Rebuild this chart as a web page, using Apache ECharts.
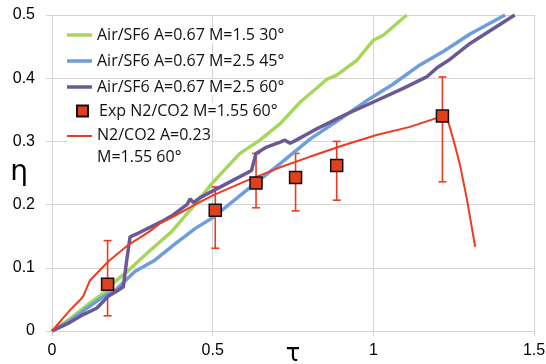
<!DOCTYPE html>
<html>
<head>
<meta charset="utf-8">
<script src="https://cdn.jsdelivr.net/npm/echarts@6/dist/echarts.min.js"></script>
<style>
html, body { margin: 0; padding: 0; background: #fff; }
#chart { width: 546px; height: 364px; }
</style>
</head>
<body>
<div id="chart"></div>
<script>
// simulated curves, [tau, eta]
const air30 = [[0, 0], [0.05, 0.017], [0.097, 0.036], [0.17, 0.064], [0.196, 0.078], [0.232, 0.093], [0.289, 0.12], [0.372, 0.157], [0.424, 0.188], [0.445, 0.2], [0.502, 0.236], [0.585, 0.281], [0.647, 0.302], [0.71, 0.328], [0.772, 0.362], [0.855, 0.398], [0.886, 0.405], [0.948, 0.428], [1.0, 0.46], [1.031, 0.468], [1.104, 0.5]];
const air45 = [[0, 0], [0.05, 0.014], [0.097, 0.032], [0.17, 0.058], [0.196, 0.064], [0.258, 0.094], [0.32, 0.112], [0.383, 0.138], [0.445, 0.162], [0.502, 0.18], [0.606, 0.223], [0.71, 0.265], [0.804, 0.304], [0.907, 0.339], [0.99, 0.368], [1.06, 0.39], [1.145, 0.421], [1.22, 0.443], [1.301, 0.47], [1.41, 0.5]];
const air60 = [[0, 0], [0.05, 0.012], [0.097, 0.026], [0.139, 0.036], [0.175, 0.055], [0.201, 0.063], [0.222, 0.07], [0.232, 0.11], [0.243, 0.149], [0.269, 0.155], [0.305, 0.164], [0.341, 0.173], [0.378, 0.184], [0.404, 0.194], [0.42, 0.2], [0.43, 0.209], [0.44, 0.203], [0.461, 0.211], [0.554, 0.236], [0.621, 0.254], [0.628, 0.268], [0.635, 0.281], [0.668, 0.291], [0.71, 0.299], [0.725, 0.302], [0.741, 0.297], [0.76, 0.302], [0.813, 0.317], [0.907, 0.341], [0.99, 0.36], [1.093, 0.384], [1.166, 0.402], [1.197, 0.416], [1.239, 0.43], [1.301, 0.455], [1.44, 0.5]];
const n2co2 = [[0, 0], [0.056, 0.033], [0.087, 0.049], [0.097, 0.055], [0.108, 0.068], [0.118, 0.08], [0.139, 0.091], [0.175, 0.11], [0.237, 0.136], [0.305, 0.158], [0.341, 0.172], [0.378, 0.181], [0.445, 0.2], [0.502, 0.215], [0.606, 0.238], [0.71, 0.259], [0.804, 0.276], [0.907, 0.294], [1.01, 0.31], [1.114, 0.323], [1.215, 0.34], [1.233, 0.331], [1.254, 0.294], [1.27, 0.262], [1.291, 0.209], [1.317, 0.133]];

// experiment
const expTau = [0.173, 0.508, 0.635, 0.758, 0.886, 1.215];
const expEta = [0.074, 0.191, 0.234, 0.243, 0.262, 0.340];
const expHigh = [0.143, 0.228, 0.281, 0.281, 0.300, 0.402];
const expLow = [0.024, 0.131, 0.195, 0.190, 0.207, 0.236];

const xTicks = [0, 0.5, 1, 1.5];
const names = ['Air/SF6 A=0.67 M=1.5 30°', 'Air/SF6 A=0.67 M=2.5 45°', 'Air/SF6 A=0.67 M=2.5 60°', 'Exp N2/CO2 M=1.55 60°', 'N2/CO2 A=0.23\nM=1.55 60°'];

const RED = '#ee3b1f';
const GRID = '#d4d4d4';
const COLORS = ['#a6d65c', '#6d9edb', '#6b5995'];

const chart = echarts.init(document.getElementById('chart'));

const legendText = { fontFamily: 'Open Sans', fontSize: 16, color: '#111', lineHeight: 16 };

// one legend per row, row centre ~ top + 8 (+ a little for the font)
function lineLegend(name, rowY, h) {
    return {
        data: [{ name: name, icon: 'rect' }],
        left: 67, top: rowY - 5, padding: 0,
        backgroundColor: '#fff',
        itemWidth: 25, itemHeight: h,
        textStyle: legendText
    };
}

function lineSeries(name, data, color, width) {
    return {
        name: name,
        type: 'line',
        data: data,
        showSymbol: false,
        symbol: 'none',
        lineStyle: { color: color, width: width },
        itemStyle: { color: color }
    };
}

chart.setOption({
    animation: false,
    grid: { left: 52, right: 12, top: 15, bottom: 33, outerBoundsMode: 'none' },
    legend: [
        {
            // two-line entry: icon path sits at the top of a 22px box, level with the first line
            data: [{ name: names[4], icon: 'path://M0,0 L25,0 L25,2 L0,2 Z M0,21.99 L0.01,21.99 L0.01,22 L0,22 Z' }],
            left: 67, top: 132 - 8, padding: 0,
            backgroundColor: '#fff',
            itemWidth: 25, itemHeight: 22,
            textStyle: Object.assign({}, legendText, { lineHeight: 22 })
        },
        lineLegend(names[0], 32, 3.5),
        lineLegend(names[1], 58, 3.5),
        lineLegend(names[2], 84, 3.5),
        {
            data: [{ name: names[3], icon: 'rect' }],
            left: 76, top: 108 - 5, padding: 0,
            backgroundColor: '#fff',
            itemWidth: 11, itemHeight: 11,
            textStyle: Object.assign({}, legendText, { padding: [0, 0, 0, 6] })
        }
    ],
    xAxis: {
        type: 'value',
        min: 0,
        max: 1.5,
        interval: 0.5,
        name: 'τ',
        nameLocation: 'middle',
        nameGap: 12,
        nameMoveOverlap: false,
        nameTextStyle: { fontFamily: 'DejaVu Sans', fontSize: 24, color: '#000', verticalAlign: 'top' },
        axisLine: { lineStyle: { color: GRID } },
        axisTick: { show: true, length: 5, lineStyle: { color: GRID } },
        axisLabel: {
            margin: 12, fontFamily: 'Liberation Sans', fontSize: 16, color: '#000',
            formatter: v => xTicks.includes(v) ? String(v) : ''
        },
        splitLine: { lineStyle: { color: GRID } }
    },
    yAxis: {
        type: 'value',
        min: 0,
        max: 0.5,
        interval: 0.1,
        name: 'η',
        nameLocation: 'middle',
        nameRotate: 0,
        nameGap: 24,
        nameMoveOverlap: false,
        nameTextStyle: { fontFamily: 'DejaVu Sans', fontSize: 28, color: '#000', padding: [20, 0, 0, 0] },
        axisLine: { show: true, lineStyle: { color: GRID } },
        axisTick: { show: true, length: 6, lineStyle: { color: GRID } },
        axisLabel: { margin: 17, fontFamily: 'Liberation Sans', fontSize: 16, color: '#000' },
        splitLine: { lineStyle: { color: GRID } }
    },
    series: [
        lineSeries(names[0], air30, COLORS[0], 3.5),
        lineSeries(names[1], air45, COLORS[1], 3.5),
        lineSeries(names[2], air60, COLORS[2], 3.5),
        {
            name: 'errorbars',
            type: 'custom',
            data: expTau.map((t, i) => [t, expLow[i], expHigh[i]]),
            renderItem: function (params, api) {
                const top = api.coord([api.value(0), api.value(2)]);
                const bot = api.coord([api.value(0), api.value(1)]);
                const w = 4;
                const st = { stroke: RED, lineWidth: 1.6 };
                return {
                    type: 'group',
                    children: [
                        { type: 'line', shape: { x1: top[0], y1: top[1], x2: bot[0], y2: bot[1] }, style: st },
                        { type: 'line', shape: { x1: top[0] - w, y1: top[1], x2: top[0] + w, y2: top[1] }, style: st },
                        { type: 'line', shape: { x1: bot[0] - w, y1: bot[1], x2: bot[0] + w, y2: bot[1] }, style: st }
                    ]
                };
            },
            z: 3
        },
        lineSeries(names[4], n2co2, RED, 2),
        {
            name: names[3],
            type: 'scatter',
            data: expTau.map((t, i) => [t, expEta[i]]),
            symbol: 'rect',
            symbolSize: 12,
            itemStyle: { color: '#e0401e', borderColor: '#111', borderWidth: 1.5, opacity: 1 },
            z: 4
        }
    ]
});
</script>
</body>
</html>
